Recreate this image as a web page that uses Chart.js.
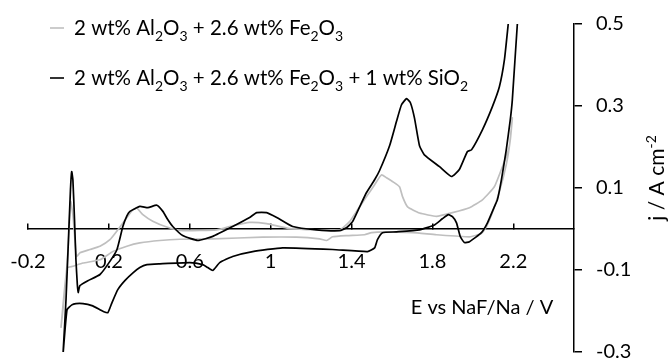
<!DOCTYPE html>
<html>
<head>
<meta charset="utf-8">
<script src="https://cdn.jsdelivr.net/npm/chart.js@4.4.1/dist/chart.umd.min.js"></script>
<style>
  html, body { margin: 0; padding: 0; background: #fff; }
</style>
</head>
<body>
<canvas id="cv" width="670" height="358"></canvas>
<script>
// cyclic voltammograms, E (V vs NaF/Na) and j (A cm-2), in sweep order
const withSiO2E = [
  -0.027, -0.012, 0.000, 0.010, 0.016, 0.022, 0.030, 0.037, 0.044, 0.048,
  0.057, 0.096, 0.156, 0.205, 0.240, 0.269, 0.289, 0.304, 0.353, 0.393,
  0.437, 0.467, 0.491, 0.516, 0.565, 0.640, 0.714, 0.812, 0.896, 0.931,
  0.980, 1.030, 1.109, 1.227, 1.341, 1.375, 1.405, 1.440, 1.474, 1.514,
  1.538, 1.588, 1.622, 1.647, 1.672, 1.691, 1.711, 1.736, 1.760, 1.835,
  1.894, 1.933, 1.973, 1.993, 2.047, 2.096, 2.131, 2.156, 2.175, 2.185,
  2.230, 2.220, 2.195, 2.185, 2.165, 2.141, 2.121, 2.106, 2.072, 2.042,
  1.983, 1.958, 1.938, 1.919, 1.899, 1.879, 1.849, 1.810, 1.736, 1.622,
  1.553, 1.528, 1.514, 1.479, 1.306, 1.059, 0.911, 0.812, 0.748, 0.714,
  0.689, 0.664, 0.600, 0.452, 0.388, 0.353, 0.319, 0.279, 0.244, 0.215,
  0.195, 0.175, 0.156, 0.116, 0.072, 0.037, 0.017, -0.007, -0.027
];
const withSiO2J = [
  -0.307, -0.172, -0.026, 0.096, 0.140, 0.120, 0.023, -0.075, -0.136, -0.155,
  -0.138, -0.126, -0.111, -0.079, -0.050, 0.006, 0.032, 0.043, 0.055, 0.052,
  0.058, 0.043, 0.023, 0.006, -0.016, -0.028, -0.018, 0.006, 0.028, 0.040,
  0.040, 0.028, 0.006, -0.002, -0.004, 0.003, 0.018, 0.054, 0.089, 0.120,
  0.142, 0.203, 0.262, 0.303, 0.318, 0.308, 0.271, 0.203, 0.181, 0.152,
  0.128, 0.145, 0.189, 0.193, 0.242, 0.298, 0.347, 0.413, 0.501, 0.547,
  0.547, 0.501, 0.315, 0.267, 0.193, 0.120, 0.071, 0.054, 0.015, -0.009,
  -0.031, -0.033, -0.019, 0.015, 0.030, 0.035, 0.025, 0.010, -0.002, -0.007,
  -0.009, -0.026, -0.046, -0.055, -0.050, -0.046, -0.055, -0.067, -0.082, -0.101,
  -0.094, -0.087, -0.082, -0.085, -0.087, -0.094, -0.107, -0.126, -0.148, -0.180,
  -0.204, -0.202, -0.197, -0.187, -0.182, -0.182, -0.185, -0.197, -0.307
];
const noSiO2E = [
  -0.037, -0.022, -0.007, 0.002, 0.011, 0.022, 0.032, 0.040, 0.057, 0.106,
  0.156, 0.205, 0.244, 0.289, 0.319, 0.338, 0.368, 0.417, 0.486, 0.565,
  0.733, 0.812, 0.896, 0.980, 1.094, 1.341, 1.390, 1.430, 1.474, 1.514,
  1.548, 1.573, 1.602, 1.637, 1.652, 1.677, 1.736, 1.820, 1.899, 1.983,
  2.047, 2.106, 2.146, 2.180, 2.195,
  2.185, 2.165, 2.131, 2.096, 2.067,
  2.042, 1.983, 1.820, 1.701, 1.563, 1.499, 1.464, 1.375, 1.306, 1.277,
  1.242, 1.128, 0.960, 0.714, 0.551, 0.452, 0.353, 0.289, 0.220, 0.156,
  0.072, 0.022, -0.007, -0.037
];
const noSiO2J = [
  -0.241, -0.172, -0.087, -0.014, 0.067, 0.035, -0.026, -0.067, -0.058, -0.050,
  -0.042, -0.026, -0.002, 0.028, 0.047, 0.051, 0.035, 0.019, 0.005, -0.004,
  -0.002, 0.008, 0.016, 0.013, 0.001, -0.002, 0.018, 0.047, 0.079, 0.108,
  0.132, 0.125, 0.116, 0.103, 0.079, 0.054, 0.039, 0.031, 0.040, 0.052,
  0.071, 0.103, 0.152, 0.201, 0.271,
  0.218, 0.157, 0.091, 0.040, 0.006,
  -0.011, -0.019, -0.014, -0.009, -0.007, -0.009, -0.014, -0.016, -0.019, -0.028,
  -0.024, -0.020, -0.020, -0.024, -0.025, -0.028, -0.034, -0.042, -0.055, -0.075,
  -0.083, -0.091, -0.095, -0.241
];

const xTicks = [-0.2, 0.2, 0.6, 1, 1.4, 1.8, 2.2];
const yTicks = [-0.3, -0.1, 0.1, 0.3, 0.5];

// _{..} = subscript, ^{..} = superscript
const seriesLabels = [
  '2 wt% Al_{2}O_{3} + 2.6 wt% Fe_{2}O_{3}',
  '2 wt% Al_{2}O_{3} + 2.6 wt% Fe_{2}O_{3} + 1 wt% SiO_{2}'
];
const seriesColors = ['#bfbfbf', '#000000'];
const xTitle = 'E vs NaF/Na / V';
const yTitle = 'j / A cm^{-2}';

const FONT = 'Lato, "Open Sans", sans-serif';
const FONT_SIZE = 20;
const LABEL_SIZE = 20.5;

const toPoints = (xs, ys) => xs.map((x, i) => ({ x: x, y: ys[i] }));

function drawRich(ctx, text, x, y, size, align) {
  const runs = [];
  const re = /([_^])\{([^}]*)\}/g;
  let last = 0, m;
  while ((m = re.exec(text))) {
    if (m.index > last) runs.push({ t: text.slice(last, m.index), k: '' });
    runs.push({ t: m[2], k: m[1] });
    last = re.lastIndex;
  }
  if (last < text.length) runs.push({ t: text.slice(last), k: '' });

  const small = Math.round(size * 0.66);
  const fontFor = k => (k ? small : size) + 'px ' + FONT;
  let total = 0;
  runs.forEach(r => {
    ctx.font = fontFor(r.k);
    r.w = ctx.measureText(r.t).width;
    total += r.w;
  });
  let cx = align === 'center' ? x - total / 2 : x;
  runs.forEach(r => {
    ctx.font = fontFor(r.k);
    const dy = r.k === '_' ? size * 0.3 : r.k === '^' ? -size * 0.4 : 0;
    ctx.fillText(r.t, cx, y + dy);
    cx += r.w;
  });
}

// legend rows and axis titles
const textPlugin = {
  id: 'texts',
  afterDraw(chart) {
    const ctx = chart.ctx;
    ctx.save();
    ctx.fillStyle = '#000';
    ctx.textBaseline = 'alphabetic';
    ctx.textAlign = 'left';

    const rowY = [28, 78];
    seriesLabels.forEach((label, i) => {
      ctx.strokeStyle = seriesColors[i];
      ctx.lineWidth = 1.6;
      ctx.beginPath();
      ctx.moveTo(50, rowY[i]);
      ctx.lineTo(64, rowY[i]);
      ctx.stroke();
      drawRich(ctx, label, 74, rowY[i] + 7, LABEL_SIZE, 'left');
    });

    drawRich(ctx, xTitle, 482, 314, FONT_SIZE, 'center');

    ctx.translate(664, 178);
    ctx.rotate(-Math.PI / 2);
    drawRich(ctx, yTitle, 0, 0, 21, 'center');
    ctx.restore();
  }
};

new Chart(document.getElementById('cv'), {
  type: 'scatter',
  data: {
    datasets: [
      {
        label: seriesLabels[1],
        data: toPoints(withSiO2E, withSiO2J),
        borderColor: seriesColors[1],
        borderWidth: 1.7,
        showLine: true,
        pointRadius: 0,
        tension: 0.15
      },
      {
        label: seriesLabels[0],
        data: toPoints(noSiO2E, noSiO2J),
        borderColor: seriesColors[0],
        borderWidth: 1.7,
        showLine: true,
        pointRadius: 0,
        tension: 0.15
      }
    ]
  },
  options: {
    responsive: false,
    animation: false,
    layout: { padding: { left: 28, top: 24, right: 0, bottom: 6 } },
    plugins: { legend: { display: false }, tooltip: { enabled: false } },
    scales: {
      x: {
        type: 'linear',
        position: { y: 0 },
        min: -0.2,
        max: 2.5,
        afterBuildTicks: s => { s.ticks = xTicks.map(v => ({ value: v })); },
        afterFit: s => { s.paddingLeft = 0; s.paddingRight = 0; },
        ticks: {
          callback: v => String(v),
          color: '#000',
          font: { family: FONT, size: FONT_SIZE },
          padding: 27,
          maxRotation: 0,
          autoSkip: false
        },
        grid: { drawOnChartArea: false, tickLength: -6, color: '#000', lineWidth: 1.5 },
        border: { color: '#000', width: 1.5 }
      },
      y: {
        type: 'linear',
        position: 'right',
        min: -0.3,
        max: 0.5,
        afterBuildTicks: s => { s.ticks = yTicks.map(v => ({ value: v })); },
        afterFit: s => { s.width = 96; s.paddingTop = 0; s.paddingBottom = 0; },
        ticks: {
          callback: v => String(v),
          color: '#000',
          font: { family: FONT, size: FONT_SIZE },
          padding: 14
        },
        grid: { drawOnChartArea: false, tickLength: 8, color: '#000', lineWidth: 1.5 },
        border: { color: '#000', width: 1.5 }
      }
    }
  },
  plugins: [textPlugin]
});
</script>
</body>
</html>
